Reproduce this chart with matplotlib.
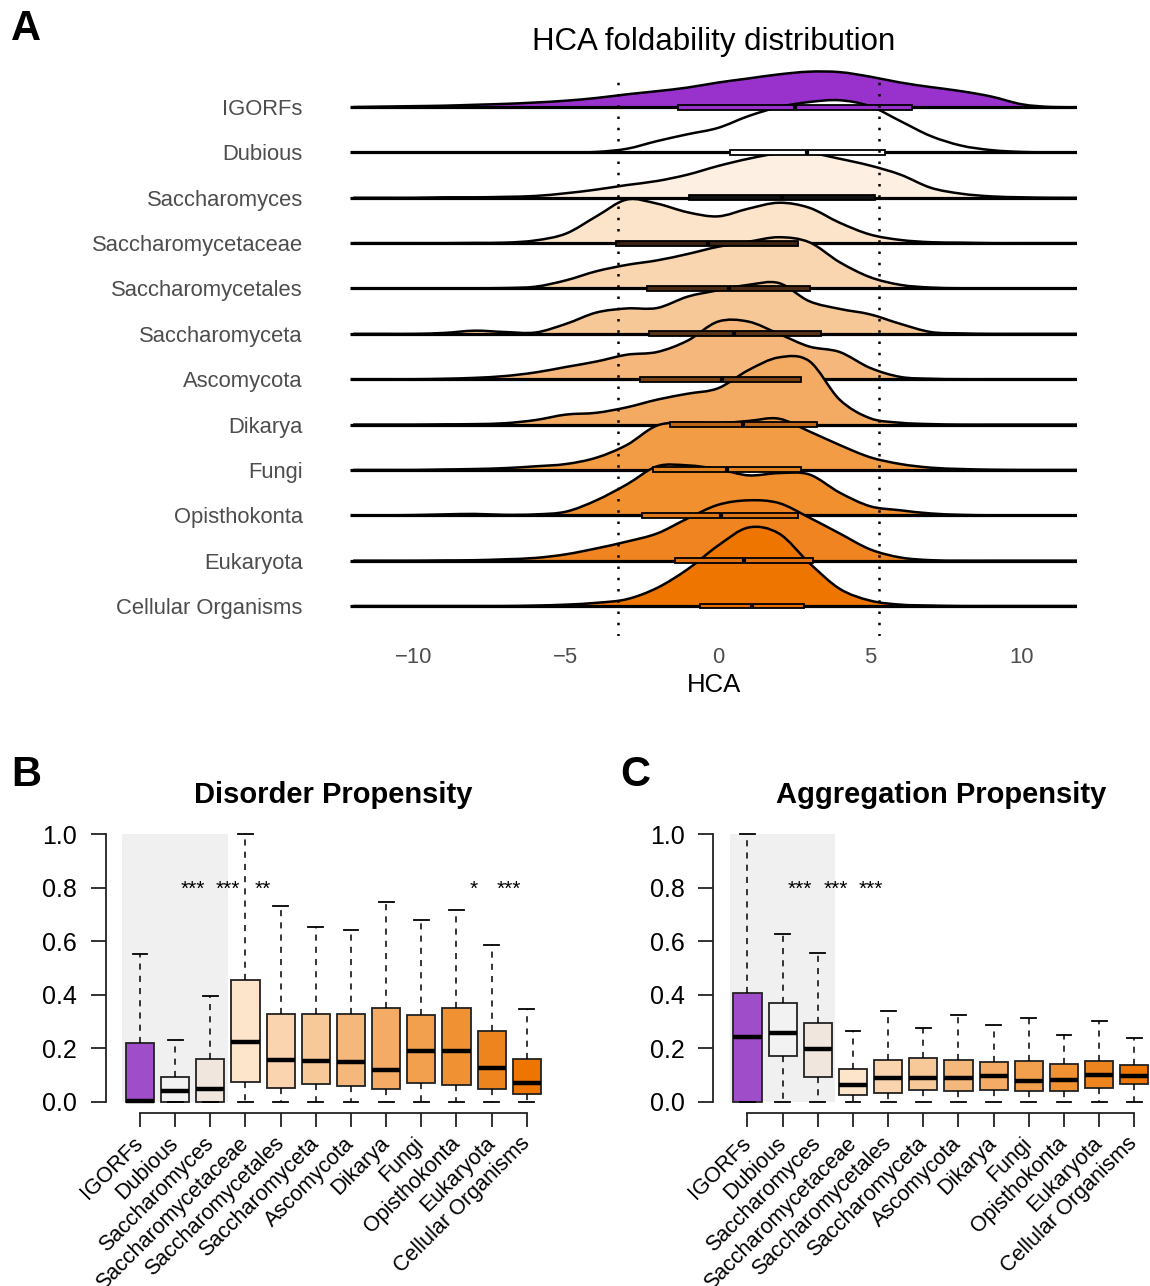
import numpy as np
import matplotlib
matplotlib.use('Agg')
import matplotlib.pyplot as plt
from matplotlib.path import Path
from matplotlib.patches import PathPatch, Rectangle

plt.rcParams['font.family'] = ['Liberation Sans', 'DejaVu Sans']

# ---------------- data ----------------
categories = ['IGORFs', 'Dubious', 'Saccharomyces', 'Saccharomycetaceae',
              'Saccharomycetales', 'Saccharomyceta', 'Ascomycota', 'Dikarya',
              'Fungi', 'Opisthokonta', 'Eukaryota', 'Cellular Organisms']

# density heights (in ridge-row units) read at HCA = -12 ... 12
hca_grid = list(range(-12, 13))
dens_igorfs = [0.0, 0.01, 0.02, 0.03, 0.05, 0.07, 0.10, 0.14, 0.20, 0.28, 0.35, 0.43, 0.54,
               0.63, 0.72, 0.78, 0.77, 0.67, 0.54, 0.44, 0.35, 0.23, 0.06, 0.0, 0.0]
dens_dubious = [0, 0, 0, 0, 0, 0, 0, 0, 0.01, 0.08, 0.25, 0.40, 0.54,
                0.80, 1.00, 1.11, 1.15, 1.02, 0.69, 0.36, 0.15, 0.05, 0.01, 0, 0]
dens_saccharomyces = [0, 0, 0, 0.01, 0.01, 0.02, 0.04, 0.10, 0.18, 0.28, 0.37, 0.51, 0.70,
                      0.86, 0.98, 0.99, 0.86, 0.71, 0.51, 0.22, 0.09, 0.03, 0.01, 0, 0]
dens_saccharomycetaceae = [0, 0, 0, 0, 0.005, 0.01, 0.06, 0.21, 0.59, 0.96, 0.87, 0.68, 0.59,
                           0.76, 0.89, 0.78, 0.45, 0.19, 0.07, 0.02, 0.01, 0, 0, 0, 0]
dens_saccharomycetales = [0, 0, 0, 0, 0.005, 0.01, 0.04, 0.18, 0.38, 0.52, 0.62, 0.76, 0.92,
                          1.03, 1.13, 1.02, 0.58, 0.25, 0.08, 0.02, 0.005, 0, 0, 0, 0]
dens_saccharomyceta = [0, 0, 0, 0.02, 0.07, 0.04, 0.03, 0.22, 0.47, 0.56, 0.57, 0.82, 0.96,
                       1.08, 1.12, 0.72, 0.55, 0.43, 0.22, 0.04, 0.01, 0, 0, 0, 0]
dens_ascomycota = [0, 0, 0, 0.01, 0.03, 0.07, 0.15, 0.27, 0.39, 0.54, 0.60, 0.85, 1.27,
                   1.27, 1.00, 0.72, 0.60, 0.25, 0.05, 0.01, 0, 0, 0, 0, 0]
dens_dikarya = [0, 0, 0, 0.005, 0.01, 0.03, 0.10, 0.22, 0.26, 0.38, 0.55, 0.68, 0.80,
                1.20, 1.48, 1.40, 0.55, 0.14, 0.04, 0.01, 0, 0, 0, 0, 0]
dens_fungi = [0, 0, 0, 0.01, 0.02, 0.04, 0.08, 0.13, 0.27, 0.55, 0.98, 1.04, 1.03,
              1.08, 1.13, 0.85, 0.55, 0.28, 0.13, 0.05, 0.02, 0.005, 0, 0, 0]
dens_opisthokonta = [0, 0, 0.005, 0.02, 0.03, 0.01, 0.02, 0.08, 0.33, 0.68, 1.08, 1.10, 1.02,
                     0.88, 0.93, 0.90, 0.50, 0.20, 0.11, 0.04, 0.01, 0, 0, 0, 0]
dens_eukaryota = [0, 0, 0, 0.005, 0.01, 0.03, 0.06, 0.14, 0.27, 0.42, 0.60, 0.93, 1.23,
                  1.33, 1.27, 0.95, 0.60, 0.25, 0.07, 0.01, 0, 0, 0, 0, 0]
dens_cellular = [0, 0, 0, 0, 0, 0, 0.01, 0.03, 0.07, 0.15, 0.40, 0.81, 1.33,
                 1.73, 1.60, 0.95, 0.38, 0.12, 0.03, 0.01, 0, 0, 0, 0, 0]
densities = [dens_igorfs, dens_dubious, dens_saccharomyces, dens_saccharomycetaceae,
             dens_saccharomycetales, dens_saccharomyceta, dens_ascomycota, dens_dikarya,
             dens_fungi, dens_opisthokonta, dens_eukaryota, dens_cellular]

# HCA quartiles per category (q1, median, q3)
hca_q1 = [-1.30, 0.38, -0.95, -3.35, -2.34, -2.26, -2.55, -1.59, -2.13, -2.50, -1.43, -0.58]
hca_med = [2.54, 2.94, 2.12, -0.34, 0.35, 0.54, 0.14, 0.81, 0.30, 0.09, 0.86, 1.13]
hca_q3 = [6.38, 5.50, 5.18, 2.62, 3.02, 3.39, 2.73, 3.26, 2.73, 2.62, 3.13, 2.83]
hca_thresholds = [-3.3, 5.3]
hca_ticks = [-10, -5, 0, 5, 10]

# Disorder propensity box stats
dis_whislo = [0.0] * 12
dis_q1 = [0.0, 0.0, 0.0, 0.073, 0.053, 0.067, 0.060, 0.050, 0.071, 0.063, 0.049, 0.030]
dis_med = [0.003, 0.042, 0.050, 0.225, 0.155, 0.153, 0.148, 0.119, 0.190, 0.191, 0.127, 0.072]
dis_q3 = [0.221, 0.093, 0.160, 0.455, 0.328, 0.329, 0.329, 0.352, 0.325, 0.351, 0.264, 0.159]
dis_whishi = [0.551, 0.230, 0.397, 1.0, 0.730, 0.653, 0.641, 0.747, 0.680, 0.716, 0.587, 0.348]
dis_sig_pos = [2.5, 3.5, 4.5, 10.5, 11.5]
dis_sig_lab = ['***', '***', '**', '*', '***']

# Aggregation propensity box stats
agg_whislo = [0.0] * 12
agg_q1 = [0.0, 0.172, 0.095, 0.027, 0.035, 0.046, 0.041, 0.046, 0.040, 0.040, 0.053, 0.067]
agg_med = [0.243, 0.259, 0.197, 0.065, 0.090, 0.091, 0.091, 0.096, 0.080, 0.083, 0.100, 0.097]
agg_q3 = [0.406, 0.368, 0.296, 0.124, 0.158, 0.163, 0.157, 0.150, 0.154, 0.142, 0.154, 0.138]
agg_whishi = [1.0, 0.626, 0.555, 0.266, 0.338, 0.275, 0.326, 0.289, 0.313, 0.250, 0.302, 0.239]
agg_sig_pos = [2.5, 3.5, 4.5]
agg_sig_lab = ['***', '***', '***']
prop_ticks = [0.0, 0.2, 0.4, 0.6, 0.8, 1.0]

# ---------------- styles ----------------
ridge_fill = ['#9932CC', '#FFFFFF', '#FDF0E3', '#FCE4CB', '#F9D5B0', '#F7C897',
              '#F5B77B', '#F3AB64', '#F29C46', '#F0902F', '#EF8420', '#EE7600']
ridge_box = ['#9932CC', '#FFFFFF', '#111111', '#3C2210', '#4A2A12', '#5A3214',
             '#7A4214', '#C0661A', '#E0801E', '#E07818', '#E07010', '#E86E00']
bp_fill = ['#A04DC9', '#F2F2F2', '#F0E6DE', '#FDE5CC', '#F9D4AF', '#F7C898',
           '#F5B87C', '#F3AB66', '#F2A04E', '#F09234', '#EE841E', '#EE7600']
GREY = '#4D4D4D'

W, H = 1150, 1286
fig = plt.figure(figsize=(W / 100, H / 100), dpi=100)


def ax_px(left, top, right, bottom):
    return fig.add_axes([left / W, 1 - bottom / H, (right - left) / W, (bottom - top) / H])


# ---------------- Panel A ----------------
row_px = 45.36
axA = ax_px(350, 70, 1077, 636)
axA.set_xlim(-12.105, 11.809)
axA.set_ylim(-30 / row_px, 536 / row_px)
n = len(categories)
bases = [n - 1 - i for i in range(n)]
xs = np.array(hca_grid, dtype=float)

for i in range(n):
    b = bases[i]
    pts = np.column_stack([xs, b + np.array(densities[i], dtype=float)])
    verts = [pts[0]]
    codes = [Path.MOVETO]
    m = len(pts)
    for k in range(m - 1):
        p0 = pts[max(k - 1, 0)]
        p1 = pts[k]
        p2 = pts[k + 1]
        p3 = pts[min(k + 2, m - 1)]
        verts += [p1 + (p2 - p0) / 6.0, p2 - (p3 - p1) / 6.0, p2]
        codes += [Path.CURVE4] * 3
    fill_verts = verts + [(xs[-1], b), (xs[0], b), (xs[0], b)]
    fill_codes = codes + [Path.LINETO, Path.LINETO, Path.CLOSEPOLY]
    axA.add_patch(PathPatch(Path(fill_verts, fill_codes), facecolor=ridge_fill[i],
                            edgecolor='none', zorder=2))
    axA.add_patch(PathPatch(Path(verts, codes), facecolor='none', edgecolor='black',
                            lw=1.8, zorder=2))
    axA.plot([-12.105, 11.809], [b, b], color='black', lw=2.3, zorder=2,
             solid_capstyle='butt')

statsA = [dict(med=hca_med[i], q1=hca_q1[i], q3=hca_q3[i], whislo=hca_q1[i],
               whishi=hca_q3[i], fliers=[]) for i in range(n)]
bpA = axA.bxp(statsA, positions=bases, widths=0.11, orientation='horizontal',
              patch_artist=True, showcaps=False, showfliers=False,
              boxprops=dict(edgecolor='black', lw=1.3),
              whiskerprops=dict(lw=0),
              medianprops=dict(color='black', lw=3.0, solid_capstyle='butt'),
              manage_ticks=False, zorder=5)
for patch, c in zip(bpA['boxes'], ridge_box):
    patch.set_facecolor(c)

for t in hca_thresholds:
    axA.plot([t, t], [-30 / row_px, (606 - 78) / row_px], color='black', lw=1.8,
             linestyle=(0, (1, 3.5)), zorder=6)

for s in axA.spines.values():
    s.set_visible(False)
axA.set_xticks(hca_ticks)
axA.set_xticklabels([str(t).replace('-', '\u2212') for t in hca_ticks])
axA.tick_params(axis='x', length=0, pad=8, labelsize=15.8, labelcolor=GREY)
axA.set_yticks(bases)
axA.set_yticklabels(categories)
axA.tick_params(axis='y', length=0, pad=34, labelsize=15.8, labelcolor=GREY)
for lab in axA.get_yticklabels():
    lab.set_verticalalignment('center_baseline')

fig.text(714 / W, 1 - 685 / H, 'HCA', fontsize=18.5, ha='center', va='center')
fig.text(714 / W, 1 - 42 / H, 'HCA foldability distribution', fontsize=22.5,
         ha='center', va='center')
fig.text(26 / W, 1 - 29 / H, 'A', fontsize=30, fontweight='bold', ha='center', va='center')


# ---------------- Panels B, C ----------------
def box_panel(left_px, whislo, q1, med, q3, whishi, sig_pos, sig_lab, title, letter,
              letter_x, title_x):
    right_px = left_px + 12.96 * 35.17
    ax = ax_px(left_px, 823.3, right_px, 1112.7)
    ax.set_xlim(0.02, 12.98)
    ax.set_ylim(-0.04, 1.04)
    ax.add_patch(Rectangle((0.5, 0.0), 3.0, 1.0, facecolor='#F0F0F0', edgecolor='none',
                           zorder=0))
    stats = [dict(med=med[i], q1=q1[i], q3=q3[i], whislo=whislo[i], whishi=whishi[i],
                  fliers=[]) for i in range(12)]
    bp = ax.bxp(stats, positions=list(range(1, 13)), widths=0.8, patch_artist=True,
                showfliers=False, capwidths=0.42,
                boxprops=dict(edgecolor='#222222', lw=1.3),
                whiskerprops=dict(color='black', lw=1.1, linestyle=(0, (4, 4))),
                capprops=dict(color='black', lw=1.3),
                medianprops=dict(color='black', lw=3.2, solid_capstyle='butt'),
                manage_ticks=False, zorder=3)
    for patch, c in zip(bp['boxes'], bp_fill):
        patch.set_facecolor(c)
    for p, lab in zip(sig_pos, sig_lab):
        ax.text(p, 0.8, lab, ha='center', va='center_baseline', fontsize=15)
    for k in ['top', 'right']:
        ax.spines[k].set_visible(False)
    ax.spines['left'].set_bounds(0, 1)
    ax.spines['bottom'].set_bounds(1, 12)
    for k in ['left', 'bottom']:
        ax.spines[k].set_linewidth(1.3)
        ax.spines[k].set_color('#222222')
    ax.set_yticks(prop_ticks)
    ax.set_yticklabels(['%.1f' % v for v in prop_ticks])
    ax.tick_params(axis='y', length=10.5, width=1.3, pad=10, labelsize=18, color='#222222')
    ax.set_xticks(list(range(1, 13)))
    ax.set_xticklabels(categories, rotation=45, ha='right', va='center',
                       rotation_mode='anchor')
    ax.tick_params(axis='x', length=10, width=1.3, pad=10, labelsize=15.5, color='#222222')
    fig.text(title_x / W, 1 - 795 / H, title, fontsize=21, fontweight='bold',
             ha='center', va='center')
    fig.text(letter_x / W, 1 - 775 / H, letter, fontsize=30, fontweight='bold',
             ha='center', va='center')
    return ax


box_panel(105.5, dis_whislo, dis_q1, dis_med, dis_q3, dis_whishi, dis_sig_pos, dis_sig_lab,
          'Disorder Propensity', 'B', 26, 333)
box_panel(713.0, agg_whislo, agg_q1, agg_med, agg_q3, agg_whishi, agg_sig_pos, agg_sig_lab,
          'Aggregation Propensity', 'C', 635, 941)

fig.savefig('out.png', dpi=100)
